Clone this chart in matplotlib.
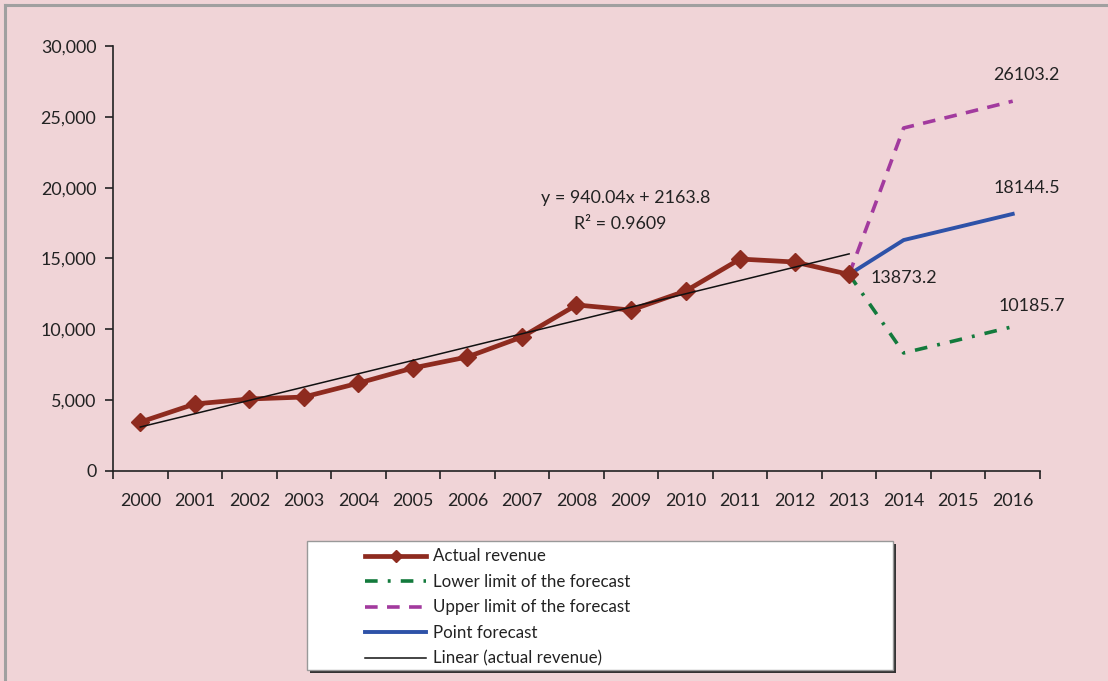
import matplotlib
matplotlib.use("Agg")
import matplotlib.pyplot as plt
from matplotlib.patches import Rectangle
from matplotlib.lines import Line2D

years = [str(y) for y in range(2000, 2017)]
actual = [3450, 4730, 5080, 5220, 6200, 7270, 8050, 9460, 11720, 11360,
          12700, 14960, 14750, 13873.2]
forecast_years = ["2013", "2014", "2015", "2016"]
point_fc = [13873.2, 16300, 17220, 18144.5]
lower_fc = [13873.2, 8330, 9250, 10185.7]
upper_fc = [13873.2, 24210, 25150, 26103.2]
trend_slope = 940.04
trend_intercept = 2163.8
r_squared = 0.9609

BG = "#f0d4d7"
FS = 12.9
plt.rcParams["font.family"] = ["Lato", "DejaVu Sans"]

fig = plt.figure(figsize=(11.08, 6.81), dpi=100, facecolor=BG)
ax = fig.add_axes([0.102, 0.3084, 0.8366, 0.6241])
ax.set_facecolor(BG)

xa = list(range(len(actual)))
xf = [years.index(y) for y in forecast_years]
trend = [trend_slope * (i + 1) + trend_intercept for i in xa]

ax.plot(xf, upper_fc, color="#a23a9e", lw=2.6, dashes=(3.5, 2.6),
        solid_capstyle="butt", label="Upper limit of the forecast", zorder=3)
ax.plot(xf, lower_fc, color="#137a3c", lw=2.6, dashes=(3.5, 2.8, 0.8, 2.8),
        label="Lower limit of the forecast", zorder=3)
ax.plot(xf, point_fc, color="#2e52a8", lw=2.8, label="Point forecast", zorder=3)
ax.plot(xa, actual, color="#8e2b1f", lw=3.4, marker="D", ms=9.5,
        label="Actual revenue", zorder=4)
ax.plot([xa[0], xa[-1]], [trend[0], trend[-1]], color="#111111", lw=1.1,
        label="Linear (actual revenue)", zorder=5)

ax.set_xlim(-0.5, len(years) - 0.5)
ax.set_ylim(0, 30000)
ax.set_yticks(range(0, 30001, 5000))
ax.set_yticklabels([f"{v:,}" for v in range(0, 30001, 5000)])
ax.set_xticks([i - 0.5 for i in range(len(years) + 1)])
ax.set_xticklabels([])
ax.set_xticks(range(len(years)), minor=True)
ax.set_xticklabels(years, minor=True)
ax.tick_params(axis="x", which="major", length=6, width=1.2, color="#222222")
ax.tick_params(axis="x", which="minor", length=0, pad=16, labelsize=FS,
               labelcolor="#222222")
ax.tick_params(axis="y", length=6, width=1.2, color="#222222", pad=6,
               labelsize=FS, labelcolor="#222222")
for s in ["top", "right"]:
    ax.spines[s].set_visible(False)
for s in ["left", "bottom"]:
    ax.spines[s].set_color("#222222")
    ax.spines[s].set_linewidth(1.2)

txt = dict(fontsize=FS, color="#222222")
ax.text(xf[-1] + 0.25, upper_fc[-1] + 1300, f"{upper_fc[-1]}", ha="center", va="bottom", **txt)
ax.text(xf[-1] + 0.25, point_fc[-1] + 1300, f"{point_fc[-1]}", ha="center", va="bottom", **txt)
ax.text(xf[-1] + 0.35, lower_fc[-1] + 900, f"{lower_fc[-1]}", ha="center", va="bottom", **txt)
ax.text(xa[-1] + 0.4, actual[-1] - 250, f"{actual[-1]}", ha="left", va="center", **txt)
ax.text(8.9, 19300, f"y = {trend_slope}x + {trend_intercept}", ha="center",
        va="center", **txt)
ax.text(8.8, 17450, f"R² = {r_squared}", ha="center", va="center", **txt)

# legend box with shadow
W, H = 1108, 681
fig.patches.append(Rectangle((310 / W, 1 - 673 / H), 586 / W, 129 / H,
                             transform=fig.transFigure, facecolor="#333333",
                             edgecolor="none", zorder=1))
fig.patches.append(Rectangle((307 / W, 1 - 670 / H), 586 / W, 129 / H,
                             transform=fig.transFigure, facecolor="white",
                             edgecolor="#999999", lw=1, zorder=2))

handles, labels = ax.get_legend_handles_labels()
order = ["Actual revenue", "Lower limit of the forecast",
         "Upper limit of the forecast", "Point forecast", "Linear (actual revenue)"]
hmap = dict(zip(labels, handles))
leg = fig.legend([hmap[k] for k in order], order, loc="upper left",
                 bbox_to_anchor=(357 / W, 1 - 540 / H), frameon=False,
                 fontsize=12.2, handlelength=3.6, handletextpad=0.4,
                 labelspacing=0.56, markerscale=0.6, borderpad=0)
leg.set_zorder(3)
for t in leg.get_texts():
    t.set_color("#222222")

# outer frame (top and left)
fig.add_artist(Line2D([5 / W, 1], [1 - 5 / H, 1 - 5 / H], transform=fig.transFigure,
                      color="#a0a0a0", lw=2.2))
fig.add_artist(Line2D([5 / W, 5 / W], [0, 1 - 5 / H], transform=fig.transFigure,
                      color="#a0a0a0", lw=2.2))

fig.savefig("out.png", dpi=100, facecolor=BG)
